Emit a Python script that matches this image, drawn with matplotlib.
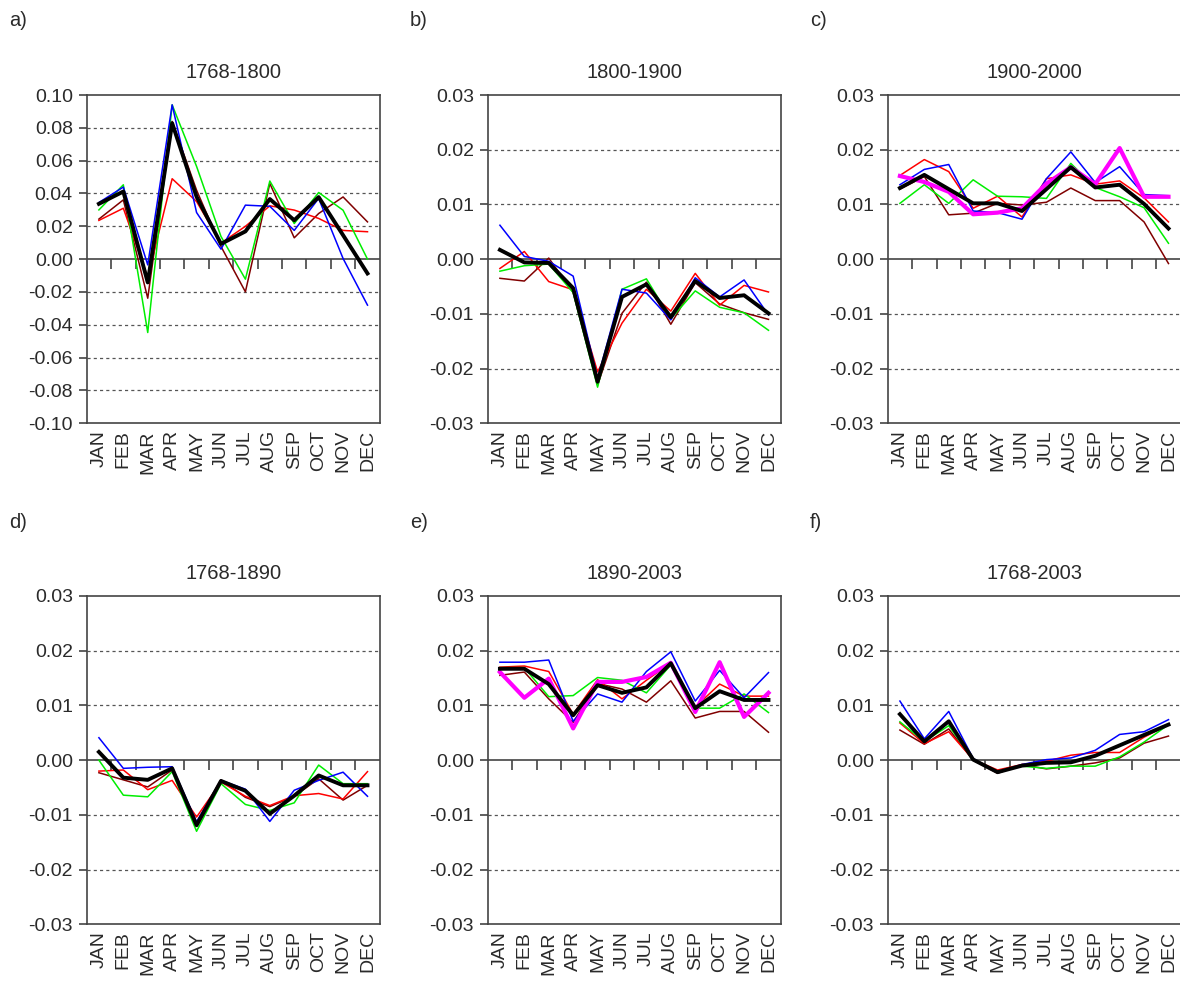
import matplotlib
matplotlib.use("Agg")
import matplotlib.pyplot as plt
import matplotlib.markers as mmarkers
import numpy as np

plt.rcParams['font.family'] = ['Liberation Sans', 'DejaVu Sans']

months = ["JAN", "FEB", "MAR", "APR", "MAY", "JUN", "JUL", "AUG", "SEP", "OCT", "NOV", "DEC"]
panel_letters = ["a)", "b)", "c)", "d)", "e)", "f)"]
titles = ["1768-1800", "1800-1900", "1900-2000", "1768-1890", "1890-2003", "1768-2003"]

# a) 1768-1800
a_blue = [0.0345, 0.0439, -0.0035, 0.094, 0.0284, 0.0061, 0.0329, 0.0322, 0.0175, 0.037, 0.0004, -0.028]
a_green = [0.030, 0.0453, -0.0447, 0.094, 0.0565, 0.0138, -0.0122, 0.0476, 0.0217, 0.0406, 0.0298, 0.0]
a_red = [0.0236, 0.031, -0.011, 0.049, 0.0351, 0.0098, 0.020, 0.0325, 0.0299, 0.0248, 0.0175, 0.0167]
a_dred = [0.0244, 0.0361, -0.0238, 0.0839, 0.042, 0.0077, -0.0199, 0.0461, 0.013, 0.0278, 0.0379, 0.0227]
a_black = [0.0337, 0.0412, -0.0142, 0.0828, 0.038, 0.0093, 0.0169, 0.0366, 0.0237, 0.0378, 0.0146, -0.0087]

# b) 1800-1900
b_blue = [0.0062, 0.0005, -0.0004, -0.0031, -0.0218, -0.0055, -0.0062, -0.0111, -0.0034, -0.0069, -0.0038, -0.0102]
b_green = [-0.0022, -0.0012, -0.0009, -0.0061, -0.0234, -0.0055, -0.0036, -0.0109, -0.0058, -0.0088, -0.0098, -0.013]
b_red = [-0.0017, 0.0014, -0.0041, -0.0056, -0.0206, -0.0117, -0.0055, -0.0095, -0.0026, -0.0084, -0.0048, -0.006]
b_dred = [-0.0035, -0.004, 0.0002, -0.0061, -0.023, -0.0099, -0.0042, -0.0119, -0.0043, -0.0082, -0.0098, -0.011]
b_black = [0.0017, -0.0006, -0.0007, -0.0053, -0.0224, -0.0069, -0.0046, -0.0106, -0.004, -0.0071, -0.0066, -0.0099]

# c) 1900-2000
c_blue = [0.0136, 0.0164, 0.0173, 0.0088, 0.0085, 0.0073, 0.0147, 0.0196, 0.014, 0.0169, 0.0118, 0.0116]
c_green = [0.0102, 0.0136, 0.0102, 0.0145, 0.0115, 0.0114, 0.0111, 0.0175, 0.0131, 0.0114, 0.0094, 0.0029]
c_red = [0.0153, 0.0182, 0.016, 0.0093, 0.0115, 0.0077, 0.0147, 0.0154, 0.0137, 0.0143, 0.0112, 0.0068]
c_dred = [0.0128, 0.0151, 0.0081, 0.0084, 0.0102, 0.0099, 0.0104, 0.013, 0.0107, 0.0107, 0.0068, -0.0008]
c_magenta = [0.0152, 0.0141, 0.0123, 0.0082, 0.0085, 0.0093, 0.0138, 0.0168, 0.0137, 0.0203, 0.0114, 0.0114]
c_black = [0.013, 0.0154, 0.0128, 0.0102, 0.0102, 0.0088, 0.0128, 0.0168, 0.0131, 0.0136, 0.0101, 0.0056]

# d) 1768-1890
d_blue = [0.0041, -0.0015, -0.0013, -0.0012, -0.0113, -0.0037, -0.0053, -0.0112, -0.0055, -0.0037, -0.0022, -0.0066]
d_green = [0.0, -0.0064, -0.0067, -0.0021, -0.013, -0.0043, -0.0081, -0.0092, -0.0078, -0.0009, -0.0043, -0.0043]
d_red = [-0.002, -0.0018, -0.0054, -0.0037, -0.0104, -0.004, -0.0066, -0.0083, -0.0065, -0.0061, -0.0071, -0.0021]
d_dred = [-0.0023, -0.0036, -0.0049, -0.0018, -0.0113, -0.0036, -0.0068, -0.0085, -0.0066, -0.0034, -0.0073, -0.0046]
d_black = [0.0015, -0.0032, -0.0036, -0.0015, -0.0119, -0.0038, -0.0056, -0.0098, -0.0065, -0.0028, -0.0046, -0.0046]

# e) 1890-2003
e_blue = [0.0179, 0.0179, 0.0183, 0.0071, 0.0121, 0.0106, 0.0162, 0.0198, 0.0108, 0.0164, 0.0114, 0.016]
e_green = [0.0169, 0.0169, 0.0116, 0.0118, 0.0151, 0.0146, 0.0123, 0.0174, 0.0095, 0.0095, 0.0121, 0.0087]
e_red = [0.017, 0.0172, 0.0162, 0.0084, 0.0147, 0.0112, 0.0146, 0.0178, 0.0097, 0.0139, 0.0117, 0.0117]
e_dred = [0.0155, 0.0161, 0.0112, 0.0069, 0.014, 0.013, 0.0106, 0.0145, 0.0077, 0.0089, 0.0089, 0.0051]
e_magenta = [0.0161, 0.0114, 0.0149, 0.0058, 0.0143, 0.0143, 0.0152, 0.0178, 0.0088, 0.0179, 0.0079, 0.0123]
e_black = [0.0167, 0.0167, 0.0139, 0.0082, 0.0137, 0.0123, 0.0133, 0.0177, 0.0095, 0.0126, 0.011, 0.011]

# f) 1768-2003
f_blue = [0.0108, 0.0039, 0.0089, 0.0003, -0.0023, -0.0008, 0.0001, 0.0004, 0.0018, 0.0047, 0.0052, 0.0074]
f_green = [0.007, 0.0034, 0.0063, 0.0001, -0.0021, -0.0011, -0.0015, -0.0011, -0.0011, 0.0006, 0.0033, 0.0065]
f_red = [0.0068, 0.003, 0.0052, 0.0001, -0.0018, -0.0008, -0.0002, 0.0009, 0.0014, 0.0014, 0.0042, 0.0065]
f_dred = [0.0055, 0.0029, 0.0057, 0.0, -0.0024, -0.0008, -0.0016, -0.0011, -0.0005, 0.0004, 0.0031, 0.0044]
f_black = [0.0084, 0.0034, 0.0071, 0.0001, -0.0022, -0.001, -0.0005, -0.0004, 0.0008, 0.0027, 0.0046, 0.0065]

panels = [
    dict(blue=a_blue, green=a_green, red=a_red, dred=a_dred, magenta=None, black=a_black),
    dict(blue=b_blue, green=b_green, red=b_red, dred=b_dred, magenta=None, black=b_black),
    dict(blue=c_blue, green=c_green, red=c_red, dred=c_dred, magenta=c_magenta, black=c_black),
    dict(blue=d_blue, green=d_green, red=d_red, dred=d_dred, magenta=None, black=d_black),
    dict(blue=e_blue, green=e_green, red=e_red, dred=e_dred, magenta=e_magenta, black=e_black),
    dict(blue=f_blue, green=f_green, red=f_red, dred=f_dred, magenta=None, black=f_black),
]

W, H = 1180, 986
fig = plt.figure(figsize=(W / 100, H / 100), dpi=100)

lefts = [86.7, 487.7, 887.7]
tops = [95, 596]
aw, ah = 293.0, 328.3
txt = "#2a2a2a"
spc = "#444444"
x = np.arange(len(months))

for k, p in enumerate(panels):
    r, c = divmod(k, 3)
    l = lefts[c]
    t = tops[r]
    ax = fig.add_axes([l / W, 1 - (t + ah) / H, aw / W, ah / H])
    if k == 0:
        lim = 0.10
        step = 0.02
    else:
        lim = 0.03
        step = 0.01
    yt = np.round(np.arange(-lim, lim + step / 2, step), 4)
    ax.set_ylim(-lim, lim)
    ax.set_xlim(-0.5, len(months) - 0.5)
    ax.set_yticks(yt)
    ax.set_yticklabels(["{:.2f}".format(v) if abs(v) > 1e-9 else "0.00" for v in yt])
    for v in yt:
        if abs(v) < 1e-9 or abs(abs(v) - lim) < 1e-9:
            continue
        ax.axhline(v, color="#555555", lw=0.9, ls=(0, (2.5, 2.5)), zorder=1)
    ax.axhline(0, color=spc, lw=1.2, zorder=1)
    xb = x[:-1] + 0.5
    ax.plot(xb, np.zeros_like(xb), ls="none", marker=mmarkers.TICKDOWN, ms=7,
            mew=1.2, color=spc, zorder=1)

    ax.plot(x, p["dred"], color="#800000", lw=1.1, zorder=3)
    ax.plot(x, p["red"], color="#ff0000", lw=1.1, zorder=3)
    ax.plot(x, p["green"], color="#00ee00", lw=1.1, zorder=3)
    ax.plot(x, p["blue"], color="#0000ff", lw=1.1, zorder=3)
    if p["magenta"] is not None:
        ax.plot(x, p["magenta"], color="#ff00ff", lw=3.0, zorder=4)
    ax.plot(x, p["black"], color="#000000", lw=2.8, zorder=5)

    ax.set_xticks(x)
    ax.set_xticklabels(months, rotation=90, fontsize=14, color=txt)
    ax.tick_params(axis="x", length=0, pad=5)
    ax.tick_params(axis="y", length=6, width=1.2, color=spc, labelsize=14,
                   labelcolor=txt, pad=4)
    for s in ax.spines.values():
        s.set_color(spc)
        s.set_linewidth(1.2)
    ax.set_title(titles[k], fontsize=14.5, color=txt, pad=12)
    fig.text((l - 78) / W, 1 - (t - 74) / H, panel_letters[k], fontsize=14.5,
             color=txt, ha="left", va="center")

fig.savefig("out.png", dpi=100)
